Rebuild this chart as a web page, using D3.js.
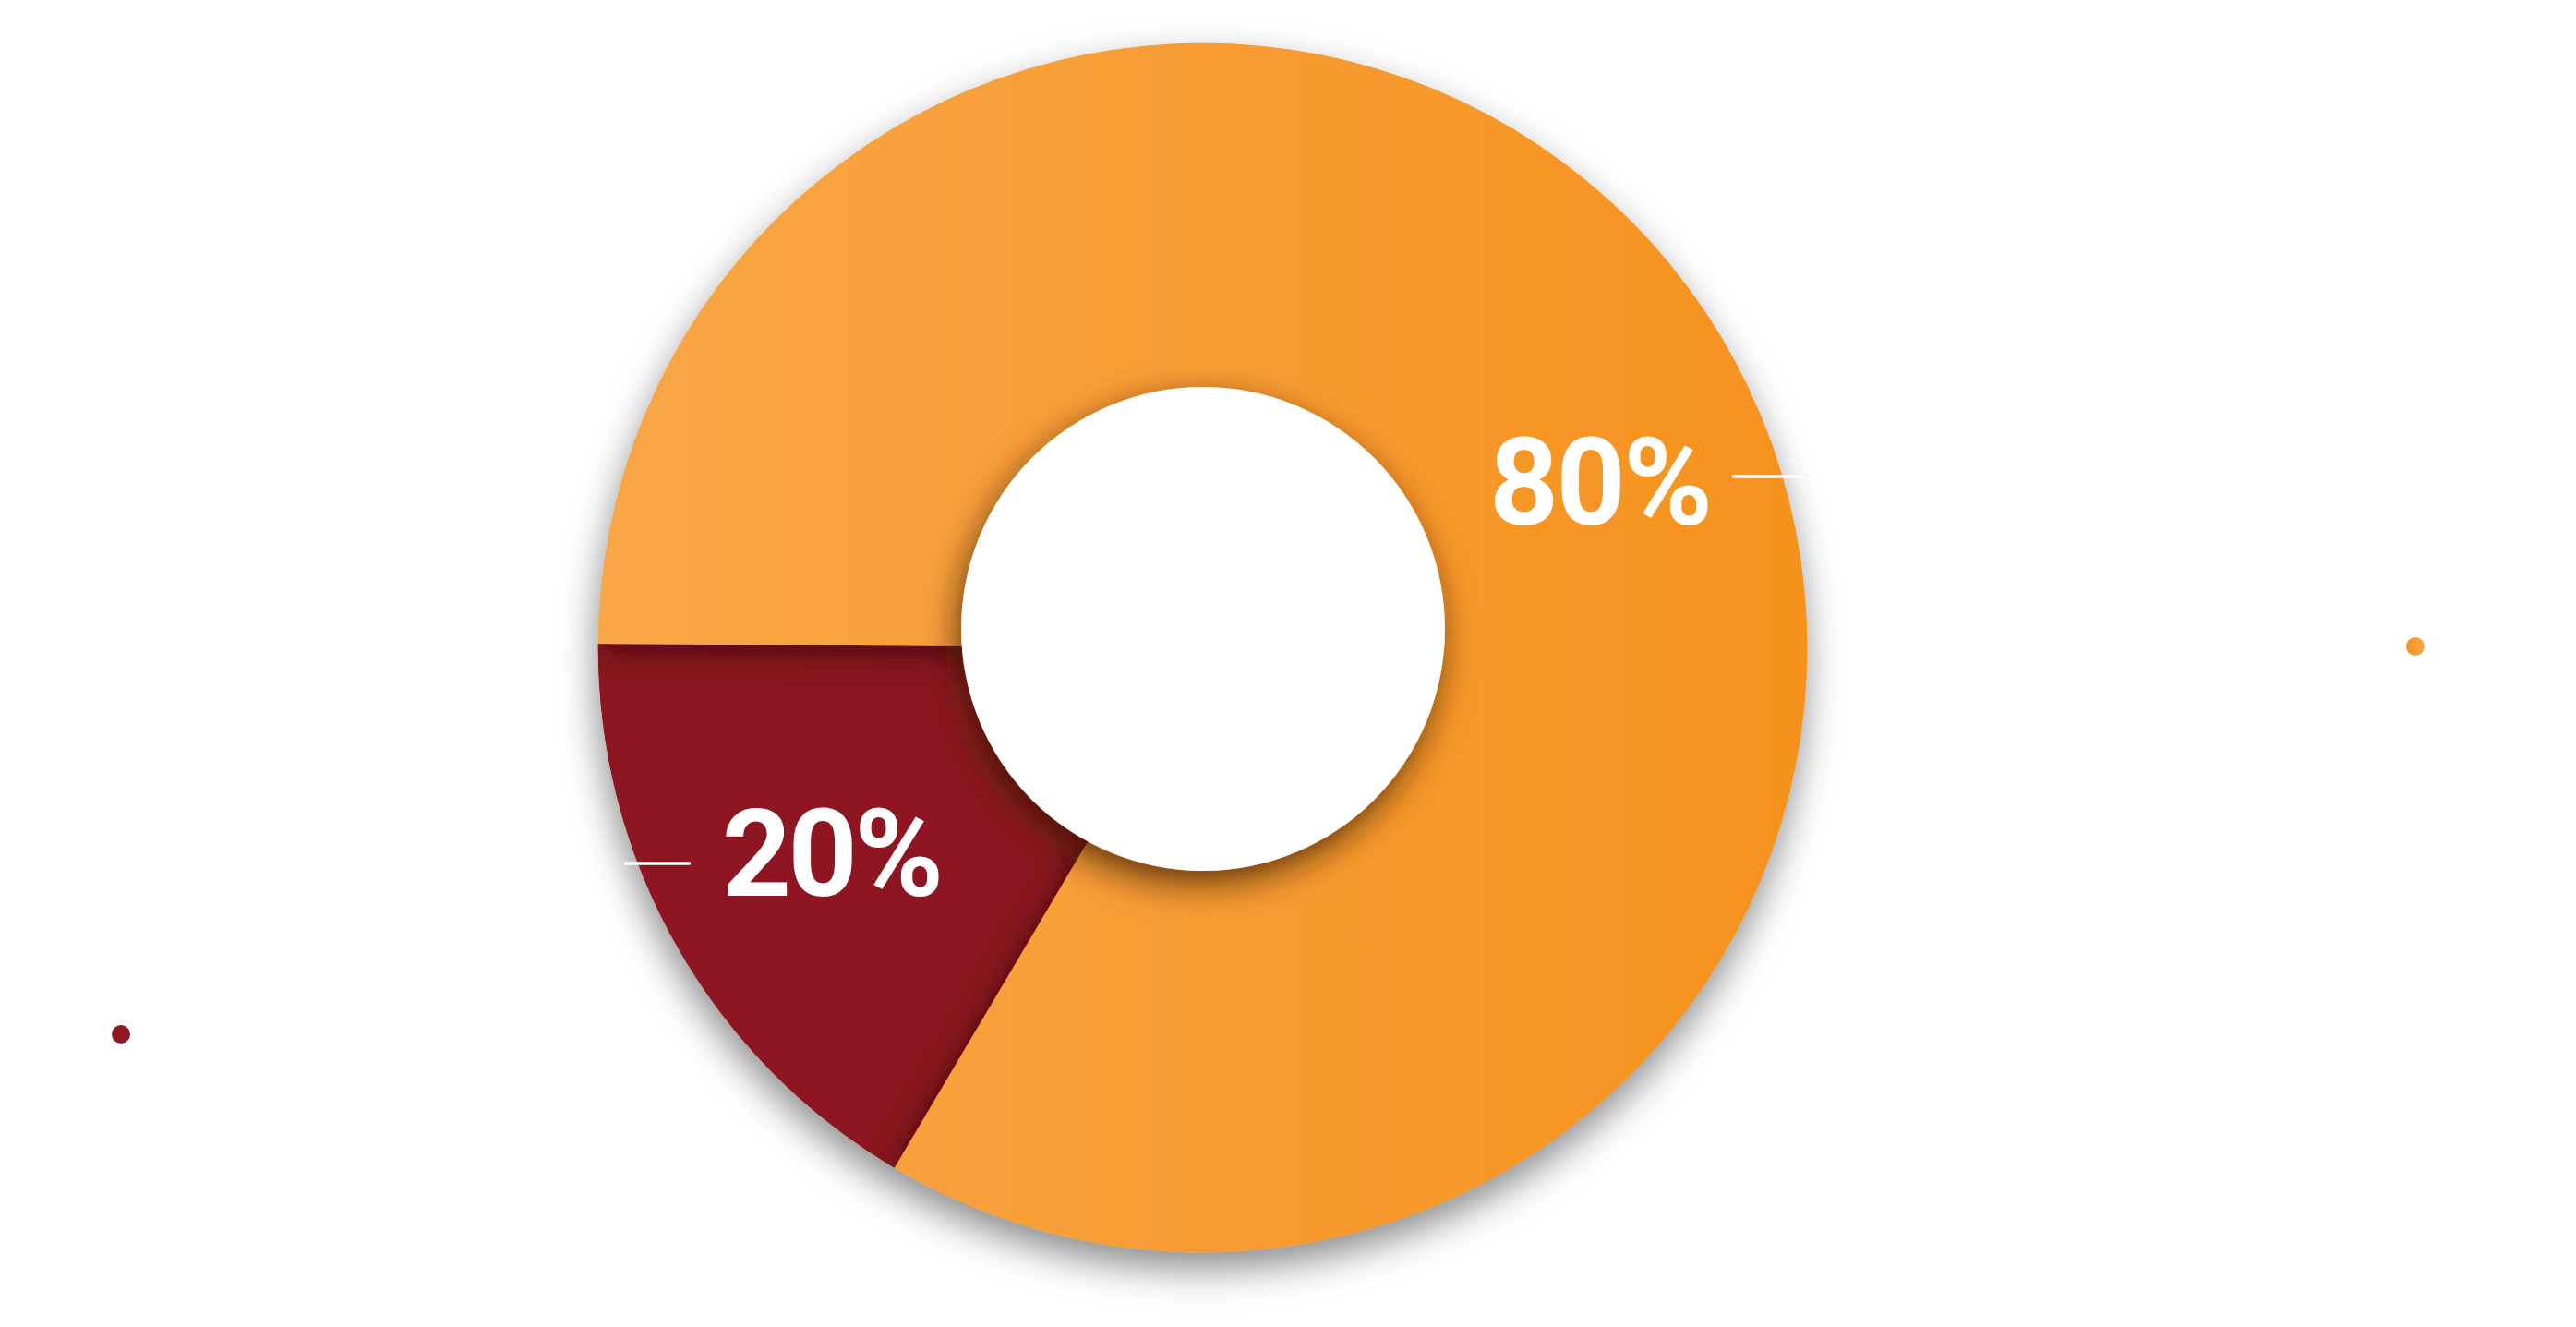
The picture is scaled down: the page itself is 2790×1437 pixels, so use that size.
<!DOCTYPE html>
<html>
<head>
<meta charset="utf-8">
<script src="https://cdn.jsdelivr.net/npm/d3@7/dist/d3.min.js"></script>
<style>
  html, body { margin: 0; padding: 0; background: #ffffff; }
  svg { display: block; }
</style>
</head>
<body>
<script>
// ---- data ----
const categories = ["Orange share", "Red share"];
const sliceShares = [83.4, 16.6];          // angular size of each slice as drawn
const labelTexts = ["80%", "20%"];         // printed labels
const seriesColors = ["#F7A043", "#8D1820"];

// ---- layout ----
const W = 2790, H = 1437;
const cx = 1302.5, cy = 701.5;
const R = 655;
const startDeg = -89.6;

const svg = d3.select("body").append("svg")
  .attr("width", W).attr("height", H);

const defs = svg.append("defs");

// orange horizontal gradient
const og = defs.append("linearGradient").attr("id", "gOrange")
  .attr("gradientUnits", "userSpaceOnUse")
  .attr("x1", -R).attr("y1", 0).attr("x2", R).attr("y2", 0);
og.append("stop").attr("offset", "0").attr("stop-color", "#F8A647");
og.append("stop").attr("offset", "1").attr("stop-color", "#F6921E");

const dg = defs.append("linearGradient").attr("id", "gDot")
  .attr("x1", 0).attr("y1", 0).attr("x2", 1).attr("y2", 0);
dg.append("stop").attr("offset", "0").attr("stop-color", "#F6921E");
dg.append("stop").attr("offset", "1").attr("stop-color", "#F8A647");

// outer drop shadow
const fo = defs.append("filter").attr("id", "fOuter")
  .attr("x", "-20%").attr("y", "-20%").attr("width", "140%").attr("height", "140%");
fo.append("feDropShadow").attr("dx", -2).attr("dy", 18).attr("stdDeviation", 20)
  .attr("flood-color", "#000").attr("flood-opacity", 0.45);

// shadow cast by the orange slice onto the red one
const fs = defs.append("filter").attr("id", "fSlice")
  .attr("x", "-20%").attr("y", "-20%").attr("width", "140%").attr("height", "140%");
fs.append("feDropShadow").attr("dx", 0).attr("dy", 5).attr("stdDeviation", 20)
  .attr("flood-color", "#2a0005").attr("flood-opacity", 0.8);

// inner hole shadow
const fi = defs.append("filter").attr("id", "fInner")
  .attr("x", "-30%").attr("y", "-30%").attr("width", "160%").attr("height", "160%");
fi.append("feDropShadow").attr("dx", -5).attr("dy", 14).attr("stdDeviation", 18)
  .attr("flood-color", "#3a1a00").attr("flood-opacity", 0.75);

// clip in the local (translated) coordinates of the disk group
defs.append("clipPath").attr("id", "cDisk")
  .append("circle").attr("cx", 0).attr("cy", 0).attr("r", R);

const fills = ["url(#gOrange)", seriesColors[1]];

const pie = d3.pie().sort(null).value(d => d)
  .startAngle(startDeg * Math.PI / 180)
  .endAngle((startDeg + 360) * Math.PI / 180);
const arcs = pie(sliceShares);
const arc = d3.arc().innerRadius(0).outerRadius(R);

const outer = svg.append("g").attr("filter", "url(#fOuter)");
const disk = outer.append("g")
  .attr("transform", `translate(${cx},${cy})`)
  .attr("clip-path", "url(#cDisk)");

// red first, then orange on top (casting a soft shadow onto the red)
disk.append("path").datum(arcs[1]).attr("d", arc).attr("fill", fills[1]);
disk.append("path").datum(arcs[0]).attr("d", arc).attr("fill", fills[0])
  .attr("filter", "url(#fSlice)");

// inner hole
const holeR = 262;
disk.append("circle")
  .attr("cx", 0.5).attr("cy", -20.5).attr("r", holeR)
  .attr("fill", "#ffffff").attr("filter", "url(#fInner)");

// ---- labels ----
const labelPos = [
  { x: cx + 310.5, y: cy - 133.5, w: 242, line: [cx + 575, cy - 185.5, cx + 650, cy - 185.5] },
  { x: cx - 520.5, y: cy + 268.5, w: 240, line: [cx - 625, cy + 233.5, cx - 556, cy + 233.5] }
];

labelTexts.forEach((t, i) => {
  const p = labelPos[i];
  svg.append("text")
    .attr("x", p.x).attr("y", p.y)
    .attr("font-family", "Roboto, 'DejaVu Sans', sans-serif")
    .attr("font-weight", 700)
    .attr("font-size", 131)
    .attr("textLength", p.w)
    .attr("lengthAdjust", "spacing")
    .attr("fill", "#ffffff")
    .text(t);
  svg.append("line")
    .attr("x1", p.line[0]).attr("y1", p.line[1])
    .attr("x2", p.line[2]).attr("y2", p.line[3])
    .attr("stroke", "#ffffff").attr("stroke-width", 3.5)
    .attr("stroke-linecap", "round");
});

// ---- series dots ----
const dotPos = [
  { x: cx + 1313.5, y: cy - 1.5 },
  { x: cx - 1171.5, y: cy + 418.5 }
];
const dotFills = ["url(#gDot)", seriesColors[1]];
svg.selectAll("circle.dot").data(categories).enter().append("circle")
  .attr("class", "dot")
  .attr("cx", (d, i) => dotPos[i].x)
  .attr("cy", (d, i) => dotPos[i].y)
  .attr("r", 10)
  .attr("fill", (d, i) => dotFills[i]);
</script>
</body>
</html>
